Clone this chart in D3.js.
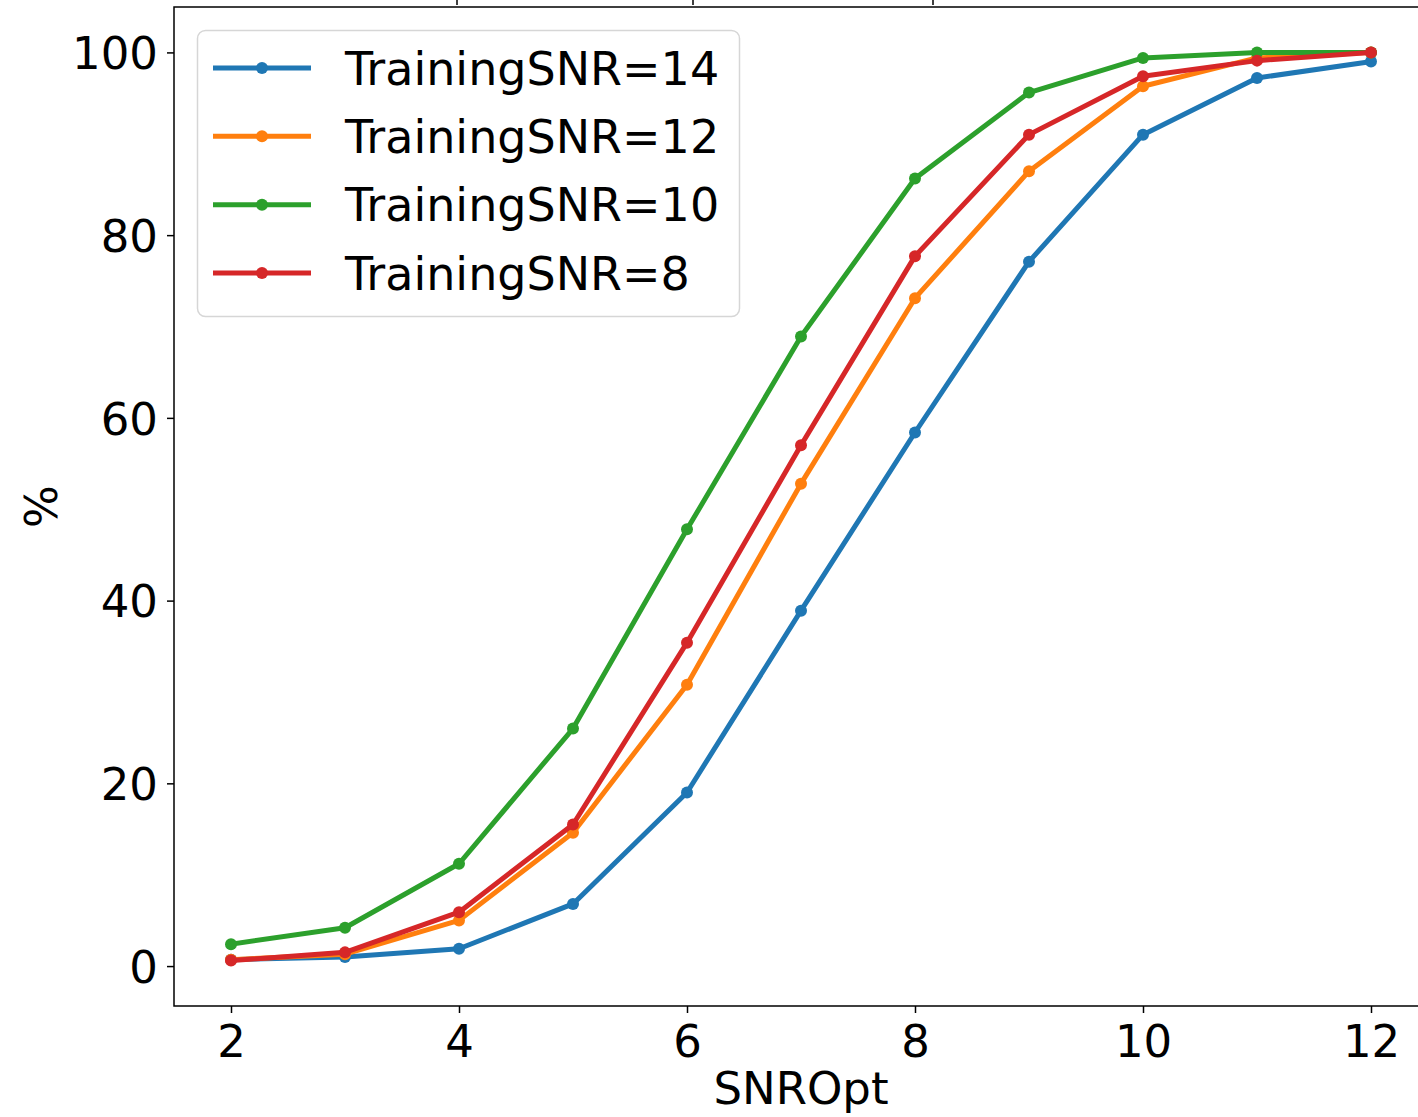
<!DOCTYPE html>
<html>
<head>
<meta charset="utf-8">
<script src="https://cdn.jsdelivr.net/npm/d3@7"></script>
<style>
  html, body { margin: 0; padding: 0; background: #fff; }
  svg { display: block; font-family: "DejaVu Sans", sans-serif; }
</style>
</head>
<body>
<svg id="chart" width="1418" height="1117"></svg>
<script>
// Detection rate (%) versus SNROpt for networks trained at different SNRs
const snrOpt = [2, 3, 4, 5, 6, 7, 8, 9, 10, 11, 12];
const seriesNames = ["TrainingSNR=14", "TrainingSNR=12", "TrainingSNR=10", "TrainingSNR=8"];
const snr14 = [0.7, 1.0, 1.9, 6.8, 19.0, 38.9, 58.4, 77.1, 91.0, 97.2, 99.0];
const snr12 = [0.7, 1.3, 5.0, 14.6, 30.8, 52.8, 73.1, 87.0, 96.3, 99.4, 100];
const snr10 = [2.4, 4.2, 11.2, 26.0, 47.8, 68.9, 86.2, 95.6, 99.4, 100, 100];
const snr8  = [0.6, 1.5, 5.9, 15.5, 35.4, 57.0, 77.7, 91.0, 97.4, 99.1, 100];
const yTicks = [0, 20, 40, 60, 80, 100];
const xTicks = [2, 4, 6, 8, 10, 12];
const colors = ["#1f77b4", "#ff7f0e", "#2ca02c", "#d62728"];

const series = [snr14, snr12, snr10, snr8].map((vals, i) => ({
  name: seriesNames[i],
  color: colors[i],
  points: snrOpt.map((x, j) => ({ x, y: vals[j] }))
}));

const svg = d3.select("#chart");
const plot = { left: 174, right: 1428, top: 7, bottom: 1006 };
const fontSize = 45;
const legendFontSize = 46;
const lineWidth = 5;
const markerR = 6;

// Axis ranges padded by 5% of the data span on each side
const allY = series.flatMap(s => s.points.map(p => p.y));
const [yMin, yMax] = d3.extent(allY);
const yPad = (yMax - yMin) * 0.05;
const [xMin, xMax] = d3.extent(snrOpt);
const xPad = (xMax - xMin) * 0.05;

const x = d3.scaleLinear().domain([xMin - xPad, xMax + xPad]).range([plot.left, plot.right]);
const y = d3.scaleLinear().domain([yMin - yPad, yMax + yPad]).range([plot.bottom, plot.top]);

// Tick stubs of the panel stacked above this one
const upperTicks = svg.append("g").attr("stroke", "#000").attr("stroke-width", 1.5);
[457, 693, 933].forEach(px => {
  upperTicks.append("line").attr("x1", px).attr("x2", px).attr("y1", 0).attr("y2", 5);
});

// Lines and markers
const line = d3.line().x(d => x(d.x)).y(d => y(d.y));
const plotG = svg.append("g");
series.forEach(s => {
  plotG.append("path")
    .datum(s.points)
    .attr("d", line)
    .attr("fill", "none")
    .attr("stroke", s.color)
    .attr("stroke-width", lineWidth)
    .attr("stroke-linejoin", "round")
    .attr("stroke-linecap", "square");
  plotG.selectAll(null)
    .data(s.points)
    .join("circle")
    .attr("cx", d => x(d.x))
    .attr("cy", d => y(d.y))
    .attr("r", markerR)
    .attr("fill", s.color);
});

// Axes
const xAxis = svg.append("g")
  .attr("transform", `translate(0,${plot.bottom})`)
  .call(d3.axisBottom(x).tickValues(xTicks).tickSize(7).tickPadding(10).tickFormat(d3.format("d")));
const yAxis = svg.append("g")
  .attr("transform", `translate(${plot.left},0)`)
  .call(d3.axisLeft(y).tickValues(yTicks).tickSize(7).tickPadding(9).tickFormat(d3.format("d")));

[xAxis, yAxis].forEach(ax => {
  ax.select(".domain").remove();
  ax.selectAll(".tick line").attr("stroke", "#000").attr("stroke-width", 1.5);
  ax.selectAll(".tick text")
    .attr("font-family", "DejaVu Sans, sans-serif")
    .attr("font-size", fontSize)
    .attr("fill", "#000");
});
yAxis.selectAll(".tick text").attr("dy", "0.36em");
xAxis.selectAll(".tick text").attr("dy", "0.76em");

// Spines (left, bottom, top; right side lies past the canvas edge)
const spines = svg.append("g").attr("stroke", "#000").attr("stroke-width", 1.5).attr("fill", "none");
spines.append("path")
  .attr("d", `M${plot.right},${plot.top}H${plot.left}V${plot.bottom}H${plot.right}V${plot.top}`)
  .attr("stroke-linecap", "square");

// Axis titles
svg.append("text")
  .attr("x", x(7))
  .attr("y", 1104)
  .attr("text-anchor", "middle")
  .attr("font-size", fontSize)
  .attr("fill", "#000")
  .text("SNROpt");
svg.append("text")
  .attr("transform", `translate(57,${(plot.top + plot.bottom) / 2}) rotate(-90)`)
  .attr("text-anchor", "middle")
  .attr("font-size", fontSize)
  .attr("fill", "#000")
  .text("%");

// Legend
const legend = svg.append("g").attr("transform", "translate(197,30)");
legend.append("rect")
  .attr("x", 0.5).attr("y", 0.5)
  .attr("width", 542).attr("height", 286)
  .attr("rx", 8).attr("ry", 8)
  .attr("fill", "#fff").attr("fill-opacity", 0.8)
  .attr("stroke", "#d6d6d6").attr("stroke-width", 1.5);
const rowY = d3.scaleLinear().domain([0, 3]).range([38, 243]);
series.forEach((s, i) => {
  const row = legend.append("g").attr("transform", `translate(0,${rowY(i)})`);
  row.append("line")
    .attr("x1", 16).attr("x2", 114)
    .attr("stroke", s.color).attr("stroke-width", lineWidth);
  row.append("circle").attr("cx", 65).attr("r", markerR).attr("fill", s.color);
  row.append("text")
    .attr("x", 148)
    .attr("dy", "0.36em")
    .attr("font-size", legendFontSize)
    .attr("fill", "#000")
    .text(s.name);
});
</script>
</body>
</html>
